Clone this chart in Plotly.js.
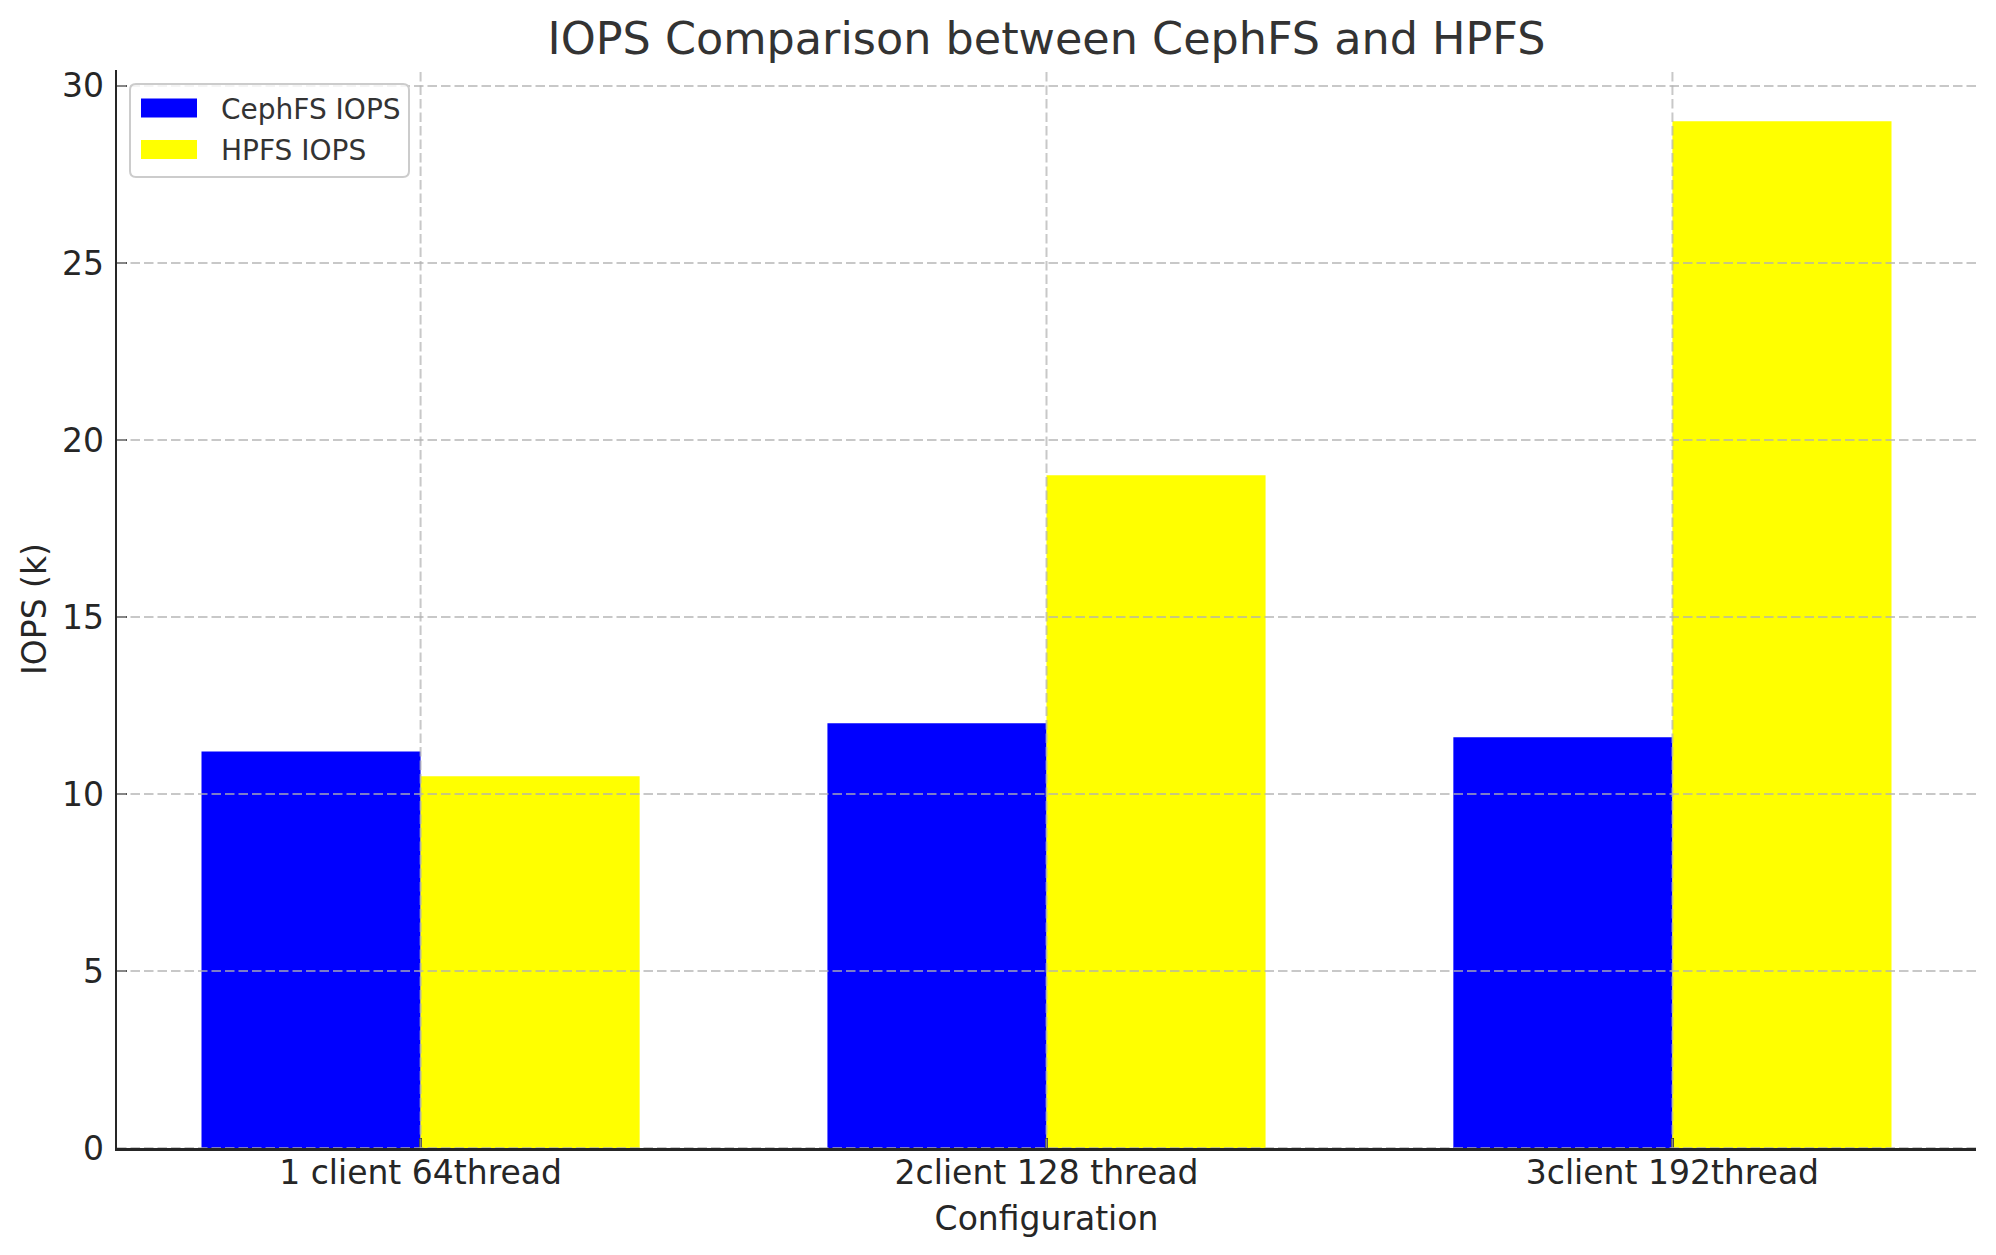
<!DOCTYPE html>
<html>
<head>
<meta charset="utf-8">
<script src="https://cdn.plot.ly/plotly-3.0.1.min.js"></script>
<style>html,body{margin:0;padding:0;background:#fff;}#chart{width:1996px;height:1255px;}</style>
</head>
<body>
<div id="chart"></div>
<script>
// ---- data ----
const categories = ["1 client 64thread", "2client 128 thread", "3client 192thread"];
const cephfsIops = [11.2, 12.0, 11.6];
const hpfsIops = [10.5, 19.0, 29.0];
const seriesNames = ["CephFS IOPS", "HPFS IOPS"];
const seriesColors = ["#0000ff", "#ffff00"];
const yTicks = [0, 5, 10, 15, 20, 25, 30];

// ---- geometry (pixels) ----
const W = 1996, H = 1255;
const L = 117, R = 1976, T = 70, B = 1148;
const X = px => (px - L) / (R - L);
const Y = py => (B - py) / (B - T);
const FONT = "DejaVu Sans, Verdana, sans-serif";

const traces = [cephfsIops, hpfsIops].map((vals, i) => ({
  type: "bar",
  x: categories,
  y: vals,
  name: seriesNames[i],
  marker: {color: seriesColors[i], line: {width: 0}},
  showlegend: false,
  hoverinfo: "x+y+name"
}));

const gridLine = {color: "rgba(176,176,176,0.7)", width: 2, dash: "9.5px,4px"};
const shapes = [];
yTicks.forEach(v => shapes.push({type: "line", xref: "paper", yref: "y", x0: 0, x1: 1, y0: v, y1: v, line: gridLine, layer: "above"}));
categories.forEach(c => shapes.push({type: "line", xref: "x", yref: "paper", x0: c, x1: c, y0: 0, y1: 1, line: gridLine, layer: "above"}));

// custom legend box (rounded)
const lx0 = 130, lx1 = 409, ly0 = 84, ly1 = 177, rr = 6;
const P = (x, y) => X(x) + "," + Y(y);
const legendPath =
  "M" + P(lx0 + rr, ly0) + " L" + P(lx1 - rr, ly0) + " Q" + P(lx1, ly0) + " " + P(lx1, ly0 + rr) +
  " L" + P(lx1, ly1 - rr) + " Q" + P(lx1, ly1) + " " + P(lx1 - rr, ly1) +
  " L" + P(lx0 + rr, ly1) + " Q" + P(lx0, ly1) + " " + P(lx0, ly1 - rr) +
  " L" + P(lx0, ly0 + rr) + " Q" + P(lx0, ly0) + " " + P(lx0 + rr, ly0) + " Z";
shapes.push({type: "path", xref: "paper", yref: "paper", path: legendPath,
  fillcolor: "rgba(255,255,255,0.8)", line: {color: "#cccccc", width: 2}, layer: "above"});

const rowCenters = [109, 150.5];
const annotations = [];
seriesNames.forEach((name, i) => {
  const cy = rowCenters[i];
  shapes.push({type: "rect", xref: "paper", yref: "paper", x0: X(141), x1: X(197), y0: Y(cy - 1 - 9.5), y1: Y(cy - 1 + 9.5),
    fillcolor: seriesColors[i], line: {width: 0}, layer: "above"});
  annotations.push({xref: "paper", yref: "paper", x: X(219), y: Y(cy), xanchor: "left", yanchor: "middle",
    text: name, showarrow: false, font: {family: FONT, size: 28, color: "#333333"}});
});

const layout = {
  width: W, height: H,
  margin: {l: L, r: W - R, t: T, b: H - B, pad: 0},
  paper_bgcolor: "#ffffff", plot_bgcolor: "#ffffff",
  font: {family: FONT, color: "#262626"},
  barmode: "group", bargap: 0.3, bargroupgap: 0,
  title: {text: "IOPS Comparison between CephFS and HPFS", x: 0.5, xref: "paper", xanchor: "center",
    y: 1 - 38.5 / H, yref: "container", yanchor: "middle",
    font: {family: FONT, size: 44.5, color: "#333333"}},
  xaxis: {
    type: "category", range: [-0.485, 2.485], autorange: false,
    showgrid: false, zeroline: false,
    showline: true, linecolor: "#262626", linewidth: 2.5,
    ticks: "inside", ticklen: 10, tickwidth: 2.5, tickcolor: "#262626",
    tickfont: {family: FONT, size: 33, color: "#262626"}, ticklabelstandoff: -6,
    title: {text: "Configuration", font: {family: FONT, size: 33, color: "#262626"}, standoff: 16},
    layer: "above traces", automargin: false, fixedrange: true
  },
  yaxis: {
    range: [0, 30.45], autorange: false,
    tickmode: "array", tickvals: yTicks, ticktext: yTicks.map(String),
    showgrid: false, zeroline: false,
    showline: true, linecolor: "#262626", linewidth: 2.5,
    ticks: "inside", ticklen: 10, tickwidth: 2.5, tickcolor: "#262626",
    tickfont: {family: FONT, size: 33, color: "#262626"}, ticklabelstandoff: 4,
    title: {text: "IOPS (k)", font: {family: FONT, size: 33, color: "#262626"}, standoff: 6},
    layer: "above traces", automargin: false, fixedrange: true
  },
  shapes: shapes,
  annotations: annotations,
  showlegend: false
};

Plotly.newPlot("chart", traces, layout, {displayModeBar: false, staticPlot: true});
</script>
</body>
</html>
